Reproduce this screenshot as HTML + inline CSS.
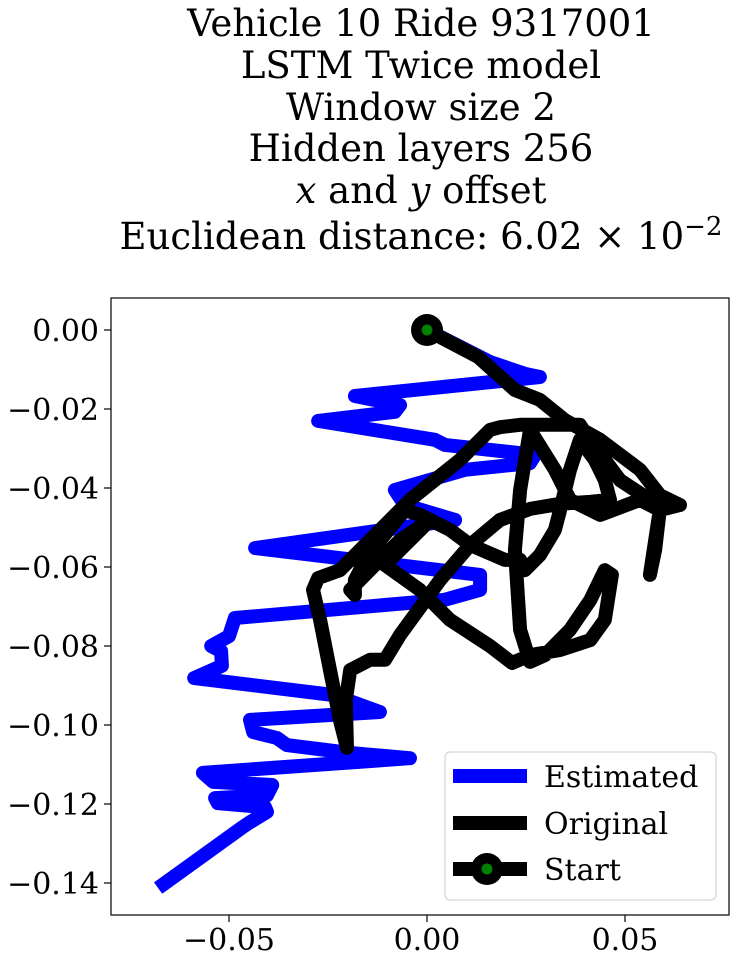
<!DOCTYPE html>
<html><head><meta charset="utf-8">
<style>
html,body{margin:0;padding:0;background:#fff;}
svg{display:block;font-family:"DejaVu Serif","Liberation Serif",serif;}
</style></head>
<body>
<svg id="chart" width="739" height="962" viewBox="0 0 739 962" xmlns="http://www.w3.org/2000/svg">
<g font-size="37" text-anchor="middle" fill="#000">
<text x="421" y="36">Vehicle 10 Ride 9317001</text>
<text x="421" y="78">LSTM Twice model</text>
<text x="421" y="120">Window size 2</text>
<text x="421" y="161">Hidden layers 256</text>
<text x="421" y="203"><tspan font-style="italic">x</tspan> and <tspan font-style="italic">y</tspan> offset</text>
<text x="421" y="249">Euclidean distance: 6.02 × 10<tspan dy="-14" font-size="26">−2</tspan></text>
</g>
<defs><clipPath id="clip"><rect x="111" y="298" width="618" height="617"/></clipPath></defs>
<g id="plot" clip-path="url(#clip)"></g>
<rect x="111" y="298" width="618" height="617" fill="none" stroke="#000" stroke-width="1.2"/>
<g id="axes"></g>
<g>
<rect x="445" y="752" width="271" height="148" rx="5" fill="#fff" fill-opacity="0.8" stroke="#ccc"/>
<g><line x1="453" y1="776" x2="527" y2="776" stroke="#0000ff" stroke-width="14"/><text x="544" y="787" font-size="30">Estimated</text></g>
<g><line x1="453" y1="823" x2="527" y2="823" stroke="#000" stroke-width="14"/><text x="544" y="834" font-size="30">Original</text></g>
<g><line x1="453" y1="869" x2="527" y2="869" stroke="#000" stroke-width="14"/><circle cx="487" cy="869" r="16" fill="#000"/><circle cx="487" cy="869" r="5.5" fill="#008000"/><text x="544" y="880" font-size="30">Start</text></g>
</g>
</svg>
<script>
const xTicks = [-0.05, 0.00, 0.05];
const xTickLabels = ["−0.05", "0.00", "0.05"];
const yTicks = [0.00, -0.02, -0.04, -0.06, -0.08, -0.10, -0.12, -0.14];
const yTickLabels = ["0.00", "−0.02", "−0.04", "−0.06", "−0.08", "−0.10", "−0.12", "−0.14"];
const estX = [0,0.0159,0.0247,0.0285,-0.0182,-0.0068,-0.0081,-0.0275,0.0020,0.0045,0.0273,0.0260,0.0096,-0.0081,-0.0056,0.0071,-0.0434,0.0134,0.0134,0.0045,-0.0485,-0.0500,-0.0545,-0.0520,-0.0518,-0.0588,-0.0237,-0.0119,-0.0447,-0.0439,-0.0379,-0.0354,-0.0194,-0.0043,-0.0566,-0.0540,-0.0391,-0.0404,-0.0535,-0.0528,-0.0409,-0.0404,-0.0447,-0.0465,-0.0679];
const estY = [0,-0.0081,-0.0111,-0.0119,-0.0167,-0.0190,-0.0207,-0.0230,-0.0278,-0.0291,-0.0316,-0.0337,-0.0354,-0.0405,-0.0443,-0.0481,-0.0552,-0.0620,-0.0658,-0.0683,-0.0729,-0.0775,-0.0800,-0.0813,-0.0850,-0.0881,-0.0924,-0.0967,-0.0987,-0.1018,-0.1033,-0.1051,-0.1071,-0.1084,-0.1121,-0.1144,-0.1152,-0.1178,-0.1185,-0.1198,-0.1208,-0.1220,-0.1246,-0.1258,-0.1413];
const origX = [0,0.0129,0.0222,0.0285,0.0348,0.0437,0.0538,0.0588,0.0639,0.0563,0.0487,0.0411,0.0386,0.0285,0.0235,0.0184,0.0159,0.0083,-0.0043,-0.0144,-0.0220,-0.0275,-0.0288,-0.0270,-0.0245,-0.0220,-0.0202,-0.0205,-0.0194,-0.0144,-0.0106,-0.0068,0.0033,0.0109,0.0184,0.0260,0.0336,0.0412,0.0462,0.0449,0.0424,0.0386,0.0361,0.0336,0.0323,0.0285,0.0247,0.0235,0.0197,0.0109,0.0058,0.0008,-0.0018,-0.0056,-0.0149,-0.0182,-0.0182,-0.0194,-0.0119,-0.0068,0.0008,-0.0106,-0.0018,0.0058,0.0159,0.0215,0.0260,0.0336,0.0412,0.0449,0.0467,0.0449,0.0412,0.0361,0.0298,0.0260,0.0235,0.0222,0.0235,0.0260,0.0323,0.0361,0.0437,0.0538,0.0588,0.0563,0.0576,0.0588,0.0639];
const origY = [0,-0.0068,-0.0152,-0.0177,-0.0228,-0.0278,-0.0354,-0.0418,-0.0443,-0.0430,-0.0380,-0.0278,-0.0240,-0.0240,-0.0240,-0.0246,-0.0253,-0.0329,-0.0430,-0.0532,-0.0608,-0.0628,-0.0658,-0.0734,-0.0861,-0.0987,-0.1058,-0.0937,-0.0861,-0.0835,-0.0835,-0.0772,-0.0633,-0.0544,-0.0481,-0.0453,-0.0440,-0.0435,-0.0430,-0.0380,-0.0329,-0.0278,-0.0354,-0.0456,-0.0506,-0.0570,-0.0608,-0.0582,-0.0582,-0.0544,-0.0506,-0.0481,-0.0468,-0.0456,-0.0570,-0.0633,-0.0671,-0.0658,-0.0582,-0.0532,-0.0481,-0.0595,-0.0658,-0.0734,-0.0800,-0.0843,-0.0823,-0.0810,-0.0785,-0.0734,-0.0620,-0.0608,-0.0684,-0.0759,-0.0823,-0.0840,-0.0759,-0.0557,-0.0405,-0.0253,-0.0354,-0.0430,-0.0468,-0.0430,-0.0456,-0.0620,-0.0557,-0.0456,-0.0443];
const NS = "http://www.w3.org/2000/svg";
function sx(v){ return 427 + v*3960; }
function sy(v){ return 330 - v*3950; }
const plot = document.getElementById('plot');
const axes = document.getElementById('axes');
function mk(tag, attrs, parent){ const e=document.createElementNS(NS,tag); for(const k in attrs) e.setAttribute(k,attrs[k]); parent.appendChild(e); return e; }
function pathOf(xs, ys){ return xs.map((x,i)=>(i?'L':'M')+sx(x).toFixed(1)+' '+sy(ys[i]).toFixed(1)).join(' '); }
const est = mk('path',{d:pathOf(estX,estY),fill:'none',stroke:'#0000ff','stroke-width':14,'stroke-linejoin':'round','stroke-linecap':'butt'},plot);


const orig = mk('path',{d:pathOf(origX,origY),fill:'none',stroke:'#000','stroke-width':14,'stroke-linejoin':'round','stroke-linecap':'round'},plot);


const sm = mk('g',{},plot);


mk('circle',{cx:sx(origX[0]),cy:sy(origY[0]),r:16,fill:'#000'},sm);
mk('circle',{cx:sx(origX[0]),cy:sy(origY[0]),r:5.5,fill:'#008000'},sm);
xTicks.forEach((t,i)=>{
  const g = mk('g',{},axes);
  
  
  mk('line',{x1:sx(t),x2:sx(t),y1:915,y2:922,stroke:'#000','stroke-width':1.2},g);
  const tx = mk('text',{x:sx(t),y:950,'font-size':30,'text-anchor':'middle'},g);
  tx.textContent = xTickLabels[i];
});
yTicks.forEach((t,i)=>{
  const g = mk('g',{},axes);
  
  
  mk('line',{x1:104,x2:111,y1:sy(t),y2:sy(t),stroke:'#000','stroke-width':1.2},g);
  const tx = mk('text',{x:99,y:sy(t)+11,'font-size':30,'text-anchor':'end'},g);
  tx.textContent = yTickLabels[i];
});
</script>
</body></html>
